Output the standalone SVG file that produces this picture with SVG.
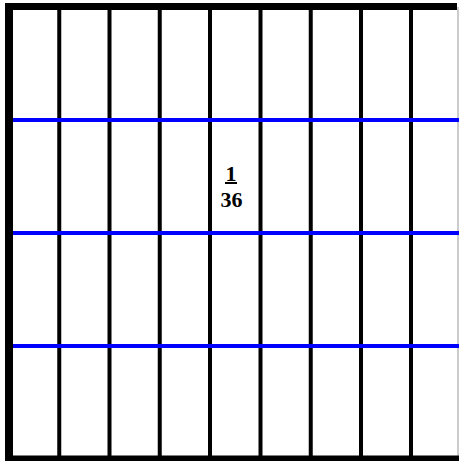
<svg xmlns="http://www.w3.org/2000/svg" width="459" height="461" viewBox="0 0 459 461">
<style>
.v{stroke:#000;stroke-width:4}
.h{stroke:#0000ff;stroke-width:4}
.t{font-family:"Liberation Serif",serif;font-weight:bold;font-size:22px;text-anchor:middle;fill:#000}
</style>
<rect width="459" height="461" fill="#fff"/>
<g id="grid">
<line class="v" x1="59.25" y1="7" x2="59.25" y2="459"/>
<line class="v" x1="109.5" y1="7" x2="109.5" y2="459"/>
<line class="v" x1="159.75" y1="7" x2="159.75" y2="459"/>
<line class="v" x1="210" y1="7" x2="210" y2="459"/>
<line class="v" x1="260.5" y1="7" x2="260.5" y2="459"/>
<line class="v" x1="310.75" y1="7" x2="310.75" y2="459"/>
<line class="v" x1="361" y1="7" x2="361" y2="459"/>
<line class="v" x1="411" y1="7" x2="411" y2="459"/>
<line x1="458" y1="7" x2="458" y2="459" stroke="#999" stroke-width="1"/>
<line class="h" x1="9" y1="120" x2="459" y2="120"/>
<line class="h" x1="9" y1="233" x2="459" y2="233"/>
<line class="h" x1="9" y1="346" x2="459" y2="346"/>
</g>
<g id="border">
<line x1="5" y1="6.5" x2="457" y2="6.5" stroke="#000" stroke-width="7"/>
<line x1="5" y1="459" x2="459" y2="459" stroke="#000" stroke-width="7"/>
<line x1="9" y1="3" x2="9" y2="461" stroke="#000" stroke-width="8"/>
</g>
<g id="label">
<text class="t" x="231" y="181">1</text>
<line x1="225" y1="183" x2="237" y2="183" stroke="#000" stroke-width="2"/>
<text class="t" x="231.5" y="207">36</text>
</g>
</svg>
